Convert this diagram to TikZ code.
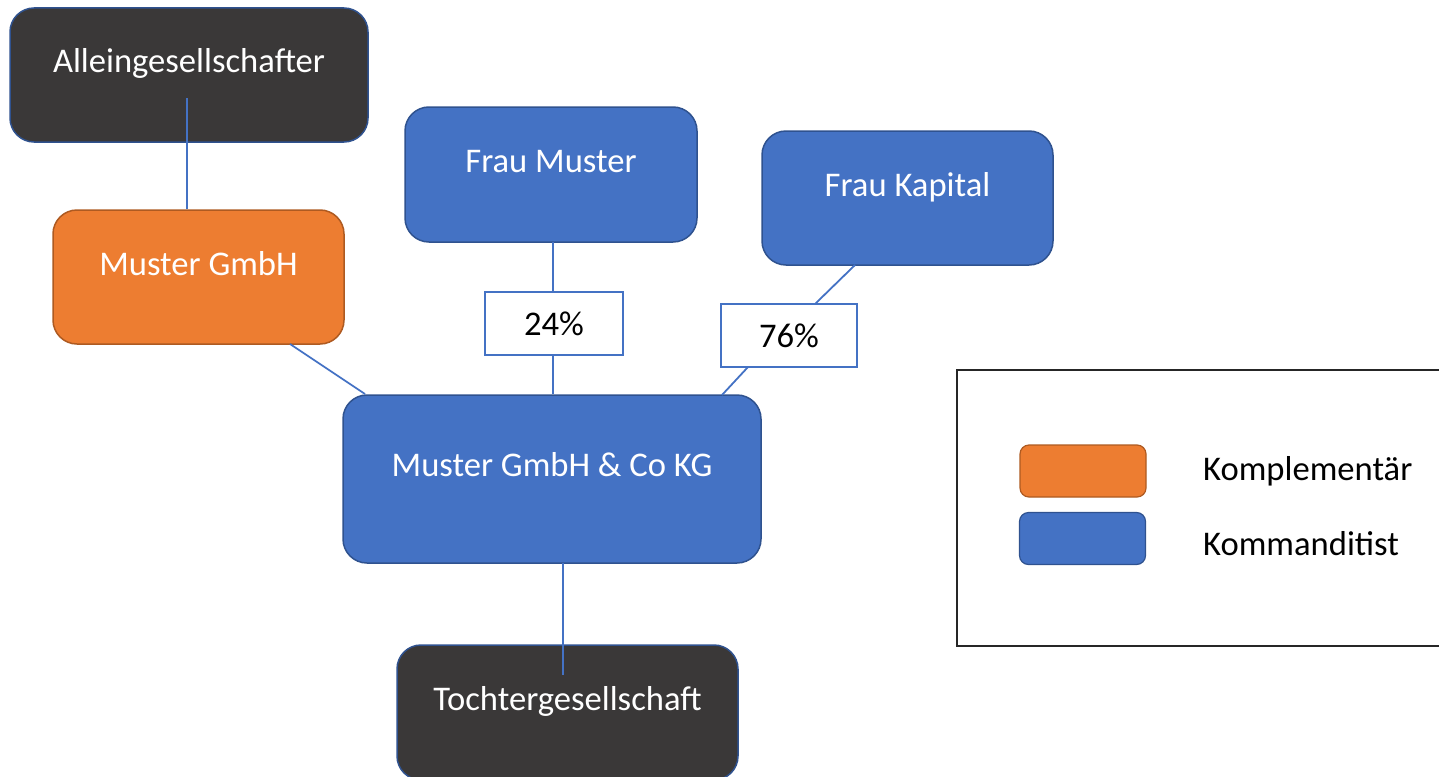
\documentclass[tikz,border=0pt]{standalone}
\usepackage{fontspec}
\setmainfont{Carlito}
\definecolor{darkbox}{HTML}{3A3838}
\definecolor{darkedge}{HTML}{2F528F}
\definecolor{bluefill}{HTML}{4472C4}
\definecolor{blueedge}{HTML}{2F528F}
\definecolor{orangefill}{HTML}{ED7D31}
\definecolor{orangeedge}{HTML}{AE5A21}
\begin{document}
\begin{tikzpicture}[x=1pt,y=-1pt,
  every node/.style={font=\fontsize{34.6}{41}\selectfont},
  entity/.style={rectangle, rounded corners=24pt, line width=1.5pt, text=white,
    inner sep=0pt, text height=25pt, text depth=29pt},
  darkent/.style={entity, fill=darkbox, draw=darkedge},
  blueent/.style={entity, fill=bluefill, draw=blueedge},
  orangeent/.style={entity, fill=orangefill, draw=orangeedge},
  pct/.style={rectangle, draw=bluefill, fill=white, line width=1.5pt, text=black, inner sep=0pt},
  conn/.style={draw=bluefill, line width=1.8pt},
  swatch/.style={rectangle, rounded corners=9pt, line width=1.2pt, inner sep=0pt,
    minimum width=126pt, minimum height=52pt},
  legtext/.style={anchor=west, text=black, inner sep=0pt}
]
\useasboundingbox (0,0) rectangle (1439,776);

% entity boxes
\node[darkent, minimum width=358pt, minimum height=134pt] (allein) at (189,75) {Alleingesellschafter};
\node[orangeent, minimum width=291pt, minimum height=134pt] (mgmbh) at (198.5,277) {Muster GmbH};
\node[blueent, minimum width=292pt, minimum height=135pt] (fmuster) at (551,174.5) {Frau Muster};
\node[blueent, minimum width=291pt, minimum height=134pt] (fkapital) at (907.5,198) {Frau Kapital};
\node[blueent, minimum width=418pt, minimum height=168pt, text depth=31pt] (kg) at (552,479) {Muster GmbH \& Co KG};
\node[darkent, minimum width=341pt, minimum height=135pt] (tochter) at (567.5,712.5) {Tochtergesellschaft};

% percentage boxes
\node[pct, minimum width=138pt, minimum height=63pt] (p24) at (554,323.5) {24\%};
\node[pct, minimum width=136pt, minimum height=63pt] (p76) at (789,335.5) {76\%};

% connector points
\coordinate (c1) at (187,98);
\coordinate (c2) at (290,344);
\coordinate (c3) at (365,394);
\coordinate (c4) at (855,265);
\coordinate (c5) at (815,304);
\coordinate (c6) at (748,367);
\coordinate (c7) at (722,395);
\coordinate (c8) at (563,563);
\coordinate (c9) at (563,675);
\coordinate (cm) at (553,242);

% connectors
\draw[conn] (c1) -- (c1 |- mgmbh.north);
\draw[conn] (c2) -- (c3);
\draw[conn] (cm) -- (cm |- p24.north);
\draw[conn] (cm |- p24.south) -- (cm |- kg.north);
\draw[conn] (c4) -- (c5);
\draw[conn] (c6) -- (c7);
\draw[conn] (c8) -- (c9);

% legend
\node[rectangle, draw=black!85, line width=2pt, minimum width=500pt, minimum height=276pt, inner sep=0pt] (legend) at (1207,508) {};
\node[swatch, fill=orangefill, draw=orangeedge] (swo) at (1083,471) {};
\node[swatch, fill=bluefill, draw=blueedge] (swb) at (1082.5,538.5) {};
\node[legtext] (lk) at (1203,471) {Komplementär};
\node[legtext] (lkd) at (1203,544) {Kommanditist};
\end{tikzpicture}
\end{document}
